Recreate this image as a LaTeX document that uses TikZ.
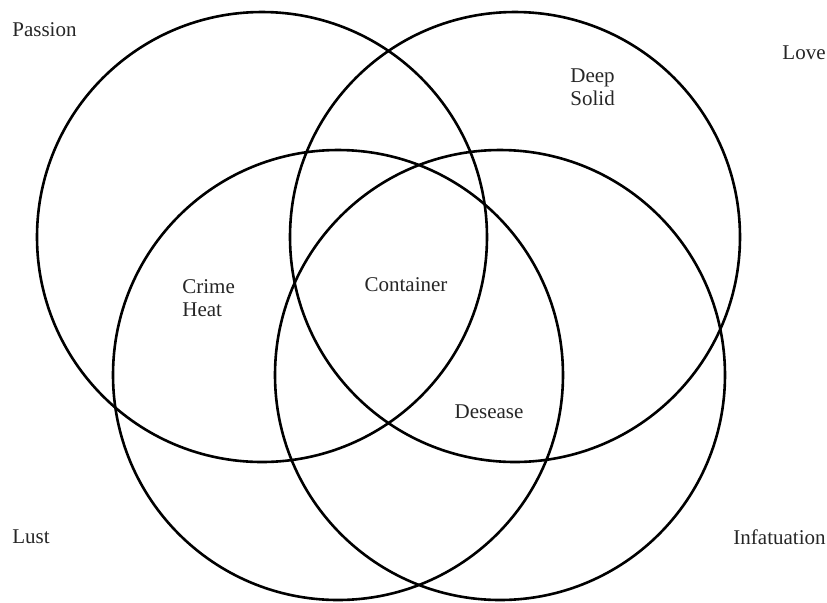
\documentclass[tikz,border=0pt]{standalone}
\usepackage{fontspec}
\setmainfont{Liberation Serif}
\begin{document}
\begin{tikzpicture}[x=0.5pt,y=-0.5pt,
  venn/.style={draw=black, line width=1.3pt, circle, minimum size=225pt, inner sep=0pt},
  lbl/.style={inner sep=0pt, font=\fontsize{10.5}{11.5}\selectfont, text=black!85},
  multi/.style={lbl, align=left}]
\useasboundingbox (0,0) rectangle (827,602);
\node[venn] (passion) at (262,237) {};
\node[venn] (love) at (515,237) {};
\node[venn] (lust) at (338,375) {};
\node[venn] (infat) at (500,375) {};
\node[lbl, anchor=west] (tpassion) at (12,30) {Passion};
\node[lbl, anchor=east] (tlove) at (826,53) {Love};
\node[lbl, anchor=west] (tlust) at (12,537) {Lust};
\node[lbl, anchor=east] (tinfat) at (826,537) {Infatuation};
\node[multi, anchor=west] (deep) at (570,87) {Deep\\Solid};
\node[multi, anchor=west] (crime) at (182,298) {Crime\\Heat};
\node[lbl] (container) at (406,285) {Container};
\node[lbl] (desease) at (489,412) {Desease};
\end{tikzpicture}
\end{document}
